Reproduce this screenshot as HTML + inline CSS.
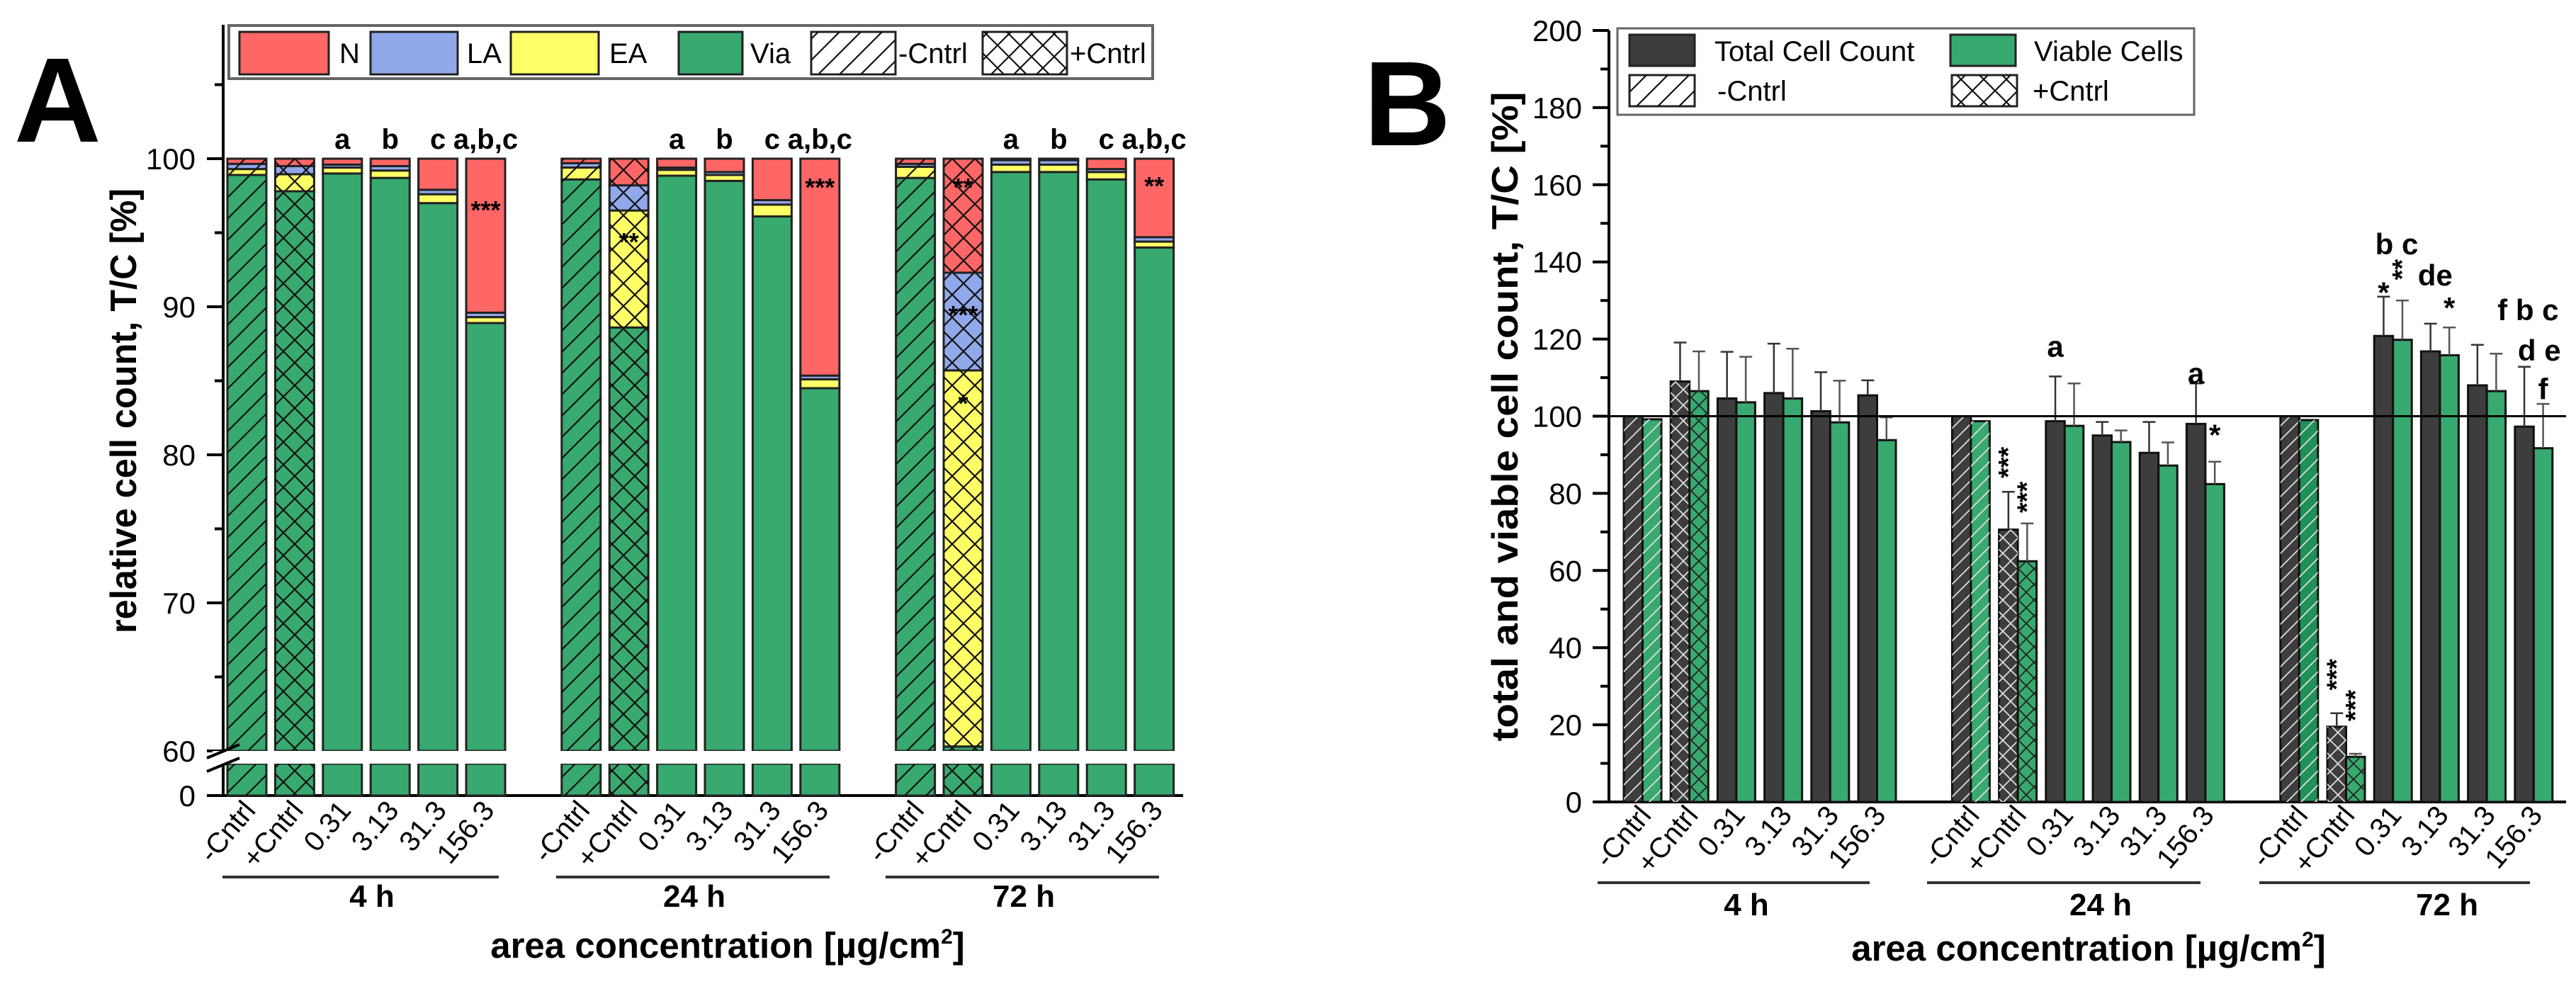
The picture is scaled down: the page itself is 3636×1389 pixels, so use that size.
<!DOCTYPE html>
<html><head><meta charset="utf-8"><style>
html,body{margin:0;padding:0;background:#fff;}
svg{display:block;font-family:"Liberation Sans",Arial,sans-serif;}
</style></head><body>
<svg id="fig" width="3636" height="1389" viewBox="0 0 3636 1389" xmlns="http://www.w3.org/2000/svg">
<defs>
<pattern id="hatchA" patternUnits="userSpaceOnUse" width="30" height="30"><path d="M-5,35 L35,-5 M-5,5 L5,-5 M25,35 L35,25" stroke="#111" stroke-width="2.2"/></pattern>
<pattern id="crossA" patternUnits="userSpaceOnUse" width="32" height="32"><path d="M0,0 L32,32 M32,0 L0,32" stroke="#111" stroke-width="2.2"/></pattern>
<pattern id="hatchW" patternUnits="userSpaceOnUse" width="20" height="20"><path d="M-5,25 L25,-5 M-5,5 L5,-5 M15,25 L25,15" stroke="#ddd" stroke-width="1.8"/></pattern>
<pattern id="crossW" patternUnits="userSpaceOnUse" width="22" height="22"><path d="M0,0 L22,22 M22,0 L0,22" stroke="#ddd" stroke-width="1.8"/></pattern>
<pattern id="crossD" patternUnits="userSpaceOnUse" width="22" height="22"><path d="M0,0 L22,22 M22,0 L0,22" stroke="#222" stroke-width="1.8"/></pattern>
</defs>
<text x="20" y="200" font-size="170" font-weight="bold">A</text>
<text x="1925" y="205" font-size="170" font-weight="bold">B</text>
<g id="A"></g>
<g id="B"></g>
</svg>
<script>
// ---------- Panel A data ----------
const catLabels = ["-Cntrl","+Cntrl","0.31","3.13","31.3","156.3"];
const groupLabels = ["4 h","24 h","72 h"];
const viaA = [98.9,97.8,99.0,98.7,97.0,88.9, 98.6,88.6,98.85,98.5,96.1,84.5, 98.7,60.3,99.1,99.1,98.6,94.0];
const eaA  = [0.4,1.15,0.4,0.5,0.6,0.4, 0.8,7.9,0.4,0.4,0.8,0.6, 0.75,25.4,0.5,0.5,0.5,0.4];
const laA  = [0.35,0.55,0.2,0.3,0.3,0.3, 0.3,1.7,0.15,0.2,0.3,0.25, 0.2,6.6,0.3,0.3,0.2,0.3];
const nA   = [0.35,0.5,0.4,0.5,2.1,10.4, 0.3,1.8,0.6,0.9,2.8,14.65, 0.35,7.7,0.1,0.1,0.7,5.3];
const letterA = ["","","a","b","c","a,b,c"];
const yTicksA = [60,70,80,90,100];
// ---------- Panel B data ----------
const totalB = [100,109,104.6,106,101.3,105.4, 100,70.6,98.7,95,90.5,98, 100,19.5,120.8,116.8,108,97.3];
const viableB = [99.2,106.5,103.6,104.6,98.4,93.8, 98.7,62.4,97.5,93.3,87.2,82.4, 99,11.7,119.8,115.8,106.5,91.7];
const totalErrB = [0,119.1,116.7,118.8,111.4,109.3, 0,80.4,110.3,98.5,98.5,108.5, 0,23,131,124,118.5,112.8];
const viableErrB = [0,116.8,115.4,117.5,109.2,99.7, 0,72.2,108.5,96.3,93.2,88.2, 0,12.5,130,123,116.2,103.2];
const yTicksB = [0,20,40,60,80,100,120,140,160,180,200];

const NS="http://www.w3.org/2000/svg";
function mk(parent,tag,attrs,text){const e=document.createElementNS(NS,tag);for(const k in attrs)e.setAttribute(k,attrs[k]);if(text!==undefined)e.textContent=text;parent.appendChild(e);return e;}
const colN="#ff6666",colLA="#91a8ea",colEA="#ffff66",colVia="#38a96f",colDark="#3d3d3d";

// ---------- Panel A ----------
const gA=document.getElementById('A');
function yA(v){return 224+(100-v)*20.9;}
function slotA(i){const g=Math.floor(i/6),k=i%6;return 321+(g*7+k)*67.4;}
const bwA=55;
let e=mk(gA,'line',{x1:315,y1:35,x2:315,y2:1060,stroke:'#000','stroke-width':4});

e=mk(gA,'line',{x1:315,y1:1078,x2:315,y2:1123,stroke:'#000','stroke-width':4});

e=mk(gA,'line',{x1:292,y1:1123,x2:1670,y2:1123,stroke:'#000','stroke-width':4});

yTicksA.forEach(v=>{
  let t=mk(gA,'line',{x1:292,y1:yA(v),x2:315,y2:yA(v),stroke:'#000','stroke-width':4});
  
  let l=mk(gA,'text',{x:276,y:yA(v)+15,'font-size':42,'text-anchor':'end'},String(v));
  
  let m=mk(gA,'line',{x1:303,y1:yA(v+5),x2:315,y2:yA(v+5),stroke:'#000','stroke-width':4});
  
});
e=mk(gA,'line',{x1:292,y1:1123,x2:315,y2:1123,stroke:'#000','stroke-width':4});
e=mk(gA,'text',{x:276,y:1138,'font-size':42,'text-anchor':'end'},"0");

for(let i=0;i<18;i++){
  const x=slotA(i),k=i%6;
  const pat=k===0?'url(#hatchA)':(k===1?'url(#crossA)':null);
  const segs=[[0,viaA[i],colVia],[viaA[i],viaA[i]+eaA[i],colEA],[viaA[i]+eaA[i],viaA[i]+eaA[i]+laA[i],colLA],[viaA[i]+eaA[i]+laA[i],100,colN]];
  let s=mk(gA,'rect',{x:x,y:1078,width:bwA,height:45,fill:colVia,stroke:'#222','stroke-width':3});
  
  if(pat)mk(gA,'rect',{x:x,y:1078,width:bwA,height:45,fill:pat});
  const names=['via','ea','la','n'];
  segs.forEach((sg,j)=>{
    const lo=Math.max(sg[0],60),hi=Math.min(sg[1],100);
    if(hi<=lo)return;
    let r=mk(gA,'rect',{x:x,y:yA(hi),width:bwA,height:yA(lo)-yA(hi),fill:sg[2],stroke:'#222','stroke-width':3});
    
    if(pat)mk(gA,'rect',{x:x,y:yA(hi),width:bwA,height:yA(lo)-yA(hi),fill:pat});
  });
  if(letterA[k]){let t=mk(gA,'text',{x:x+bwA/2,y:210,'font-size':40,'font-weight':'bold','text-anchor':'middle'},letterA[k]);
  }
  let lb=mk(gA,'text',{x:0,y:0,'font-size':40,'text-anchor':'end',transform:`translate(${x+bwA/2+14},1145) rotate(-50)`},catLabels[k]);
  
}
e=mk(gA,'rect',{x:300,y:1060,width:1380,height:18,fill:'#fff'});

mk(gA,'line',{x1:292,y1:1070,x2:338,y2:1051,stroke:'#000','stroke-width':4});
mk(gA,'line',{x1:292,y1:1089,x2:338,y2:1070,stroke:'#000','stroke-width':4});
[[5,'***',297],[7,'**',342],[11,'***',265],[13,'**',265],[13,'***',445],[13,'*',570],[17,'**',263]].forEach(s=>{
  let t=mk(gA,'text',{x:slotA(s[0])+bwA/2,y:s[2]+12,'font-size':36,'font-weight':'bold','text-anchor':'middle'},s[1]);
  
});
[[314,704,525],[785,1171,980],[1250,1636,1445]].forEach((g,i)=>{
  let l=mk(gA,'line',{x1:g[0],y1:1238,x2:g[1],y2:1238,stroke:'#333','stroke-width':4});
  
  let t=mk(gA,'text',{x:g[2],y:1280,'font-size':44,'font-weight':'bold','text-anchor':'middle'},groupLabels[i]);
  
});
e=mk(gA,'text',{x:1027,y:1352,'font-size':51,'font-weight':'bold','text-anchor':'middle'});
e.innerHTML='area concentration [µg/cm<tspan font-size="30" dy="-20">2</tspan><tspan dy="20">]</tspan>';

e=mk(gA,'text',{x:0,y:0,'font-size':52,'font-weight':'bold','text-anchor':'middle',textLength:628,lengthAdjust:'spacingAndGlyphs',transform:'translate(192,580) rotate(-90)'},'relative cell count, T/C [%]');

e=mk(gA,'rect',{x:323,y:36,width:1304,height:75,fill:'#fff',stroke:'#666','stroke-width':4});

[[338,126,colN,null,'N',479],[523,123,colLA,null,'LA',659],[721,124,colEA,null,'EA',860],[958,90,colVia,null,'Via',1059],[1145,119,'#fff','url(#hatchA)','-Cntrl',1268],[1387,119,'#fff','url(#crossA)','+Cntrl',1510]].forEach(it=>{
  let r=mk(gA,'rect',{x:it[0],y:45,width:it[1],height:60,fill:it[2],stroke:'#222','stroke-width':3});
  
  if(it[3])mk(gA,'rect',{x:it[0],y:45,width:it[1],height:60,fill:it[3]});
  let t=mk(gA,'text',{x:it[5],y:89,'font-size':40},it[4]);
  
});

// ---------- Panel B ----------
const gB=document.getElementById('B');
function yB(v){return 1132-v*5.445;}
function slotB(i){const g=Math.floor(i/6),k=i%6;return 2292+(g*7+k)*66.2;}
const bwB=26.5;
e=mk(gB,'line',{x1:2271,y1:yB(200),x2:2271,y2:yB(0),stroke:'#000','stroke-width':4});

e=mk(gB,'line',{x1:2248,y1:yB(0),x2:3622,y2:yB(0),stroke:'#000','stroke-width':4});

yTicksB.forEach(v=>{
  let t=mk(gB,'line',{x1:2248,y1:yB(v),x2:2271,y2:yB(v),stroke:'#000','stroke-width':4});
  
  let l=mk(gB,'text',{x:2233,y:yB(v)+15,'font-size':42,'text-anchor':'end'},String(v));
  
  if(v<200){let m=mk(gB,'line',{x1:2259,y1:yB(v+10),x2:2271,y2:yB(v+10),stroke:'#000','stroke-width':4});
  }
});
for(let i=0;i<18;i++){
  const x=slotB(i),k=i%6;
  const pd=k===0?'url(#hatchW)':(k===1?'url(#crossW)':null);
  const pg=k===0?'url(#hatchW)':(k===1?'url(#crossD)':null);
  let r=mk(gB,'rect',{x:x,y:yB(totalB[i]),width:bwB,height:yB(0)-yB(totalB[i]),fill:colDark,stroke:'#111','stroke-width':3});
  
  if(pd)mk(gB,'rect',{x:x,y:yB(totalB[i]),width:bwB,height:yB(0)-yB(totalB[i]),fill:pd});
  const gc=(i===12)?'#1f9058':colVia;
  r=mk(gB,'rect',{x:x+bwB,y:yB(viableB[i]),width:bwB,height:yB(0)-yB(viableB[i]),fill:gc,stroke:'#111','stroke-width':3});
  
  if(pg)mk(gB,'rect',{x:x+bwB,y:yB(viableB[i]),width:bwB,height:yB(0)-yB(viableB[i]),fill:pg});
  if(totalErrB[i]>0){
    const cx=x+bwB/2;
    let eb=mk(gB,'path',{d:`M${cx},${yB(totalB[i])} V${yB(totalErrB[i])} M${cx-9},${yB(totalErrB[i])} H${cx+9}`,stroke:'#333','stroke-width':2.5,fill:'none'});
    
    const cv=x+bwB*1.5;
    eb=mk(gB,'path',{d:`M${cv},${yB(viableB[i])} V${yB(viableErrB[i])} M${cv-9},${yB(viableErrB[i])} H${cv+9}`,stroke:'#555','stroke-width':2.5,fill:'none'});
    
  }
  let lb=mk(gB,'text',{x:0,y:0,'font-size':40,'text-anchor':'end',transform:`translate(${x+bwB+14},1152) rotate(-50)`},catLabels[k]);
  
}
e=mk(gB,'line',{x1:2271,y1:yB(100),x2:3622,y2:yB(100),stroke:'#000','stroke-width':3});

[[8,0.5,118,'a'],[11,0.5,111,'a'],[11,1.5,95,'*'],[14,0.5,132,'*'],[14,1.2,144.5,'b c'],[15,0.75,136.5,'de'],[15,1.5,128,'*'],[17,0.7,127.5,'f b c'],[17,1.3,117,'d e'],[17,1.5,107,'f']].forEach(a=>{
  let t=mk(gB,'text',{x:slotB(a[0])+bwB*a[1],y:yB(a[2])+14,'font-size':42,'font-weight':'bold','text-anchor':'middle'},a[3]);
  
});
[[7,0.5,88,'***'],[7,1.5,79,'***'],[13,0.5,33,'***'],[13,1.5,25,'***'],[14,1.5,138,'**']].forEach(a=>{
  let t=mk(gB,'text',{x:0,y:0,'font-size':38,'font-weight':'bold','text-anchor':'middle',transform:`translate(${slotB(a[0])+bwB*a[1]+12},${yB(a[2])}) rotate(-90)`},a[3]);
  
});
[[2255,2639,2465],[2720,3106,2965],[3189,3571,3454]].forEach((g,i)=>{
  let l=mk(gB,'line',{x1:g[0],y1:1246,x2:g[1],y2:1246,stroke:'#333','stroke-width':4});
  
  let t=mk(gB,'text',{x:g[2],y:1292,'font-size':44,'font-weight':'bold','text-anchor':'middle'},groupLabels[i]);
  
});
e=mk(gB,'text',{x:2948,y:1356,'font-size':51,'font-weight':'bold','text-anchor':'middle'});
e.innerHTML='area concentration [µg/cm<tspan font-size="30" dy="-20">2</tspan><tspan dy="20">]</tspan>';

e=mk(gB,'text',{x:0,y:0,'font-size':52,'font-weight':'bold','text-anchor':'middle',textLength:917,lengthAdjust:'spacingAndGlyphs',transform:'translate(2142,588) rotate(-90)'},'total and viable cell count, T/C [%]');

e=mk(gB,'rect',{x:2283,y:40,width:814,height:122,fill:'#fff',stroke:'#666','stroke-width':3});

[[2300,49,colDark,null,'Total Cell Count',2420,86],[2753,49,colVia,null,'Viable Cells',2871,86],[2300,106,'#fff','url(#hatchA)','-Cntrl',2424,142],[2755,106,'#fff','url(#crossA)','+Cntrl',2869,142]].forEach(it=>{
  let r=mk(gB,'rect',{x:it[0],y:it[1],width:92,height:44,fill:it[2],stroke:'#222','stroke-width':3});
  
  if(it[3])mk(gB,'rect',{x:it[0],y:it[1],width:92,height:44,fill:it[3]});
  let t=mk(gB,'text',{x:it[5],y:it[6],'font-size':40},it[4]);
  
});
</script>
</body></html>
